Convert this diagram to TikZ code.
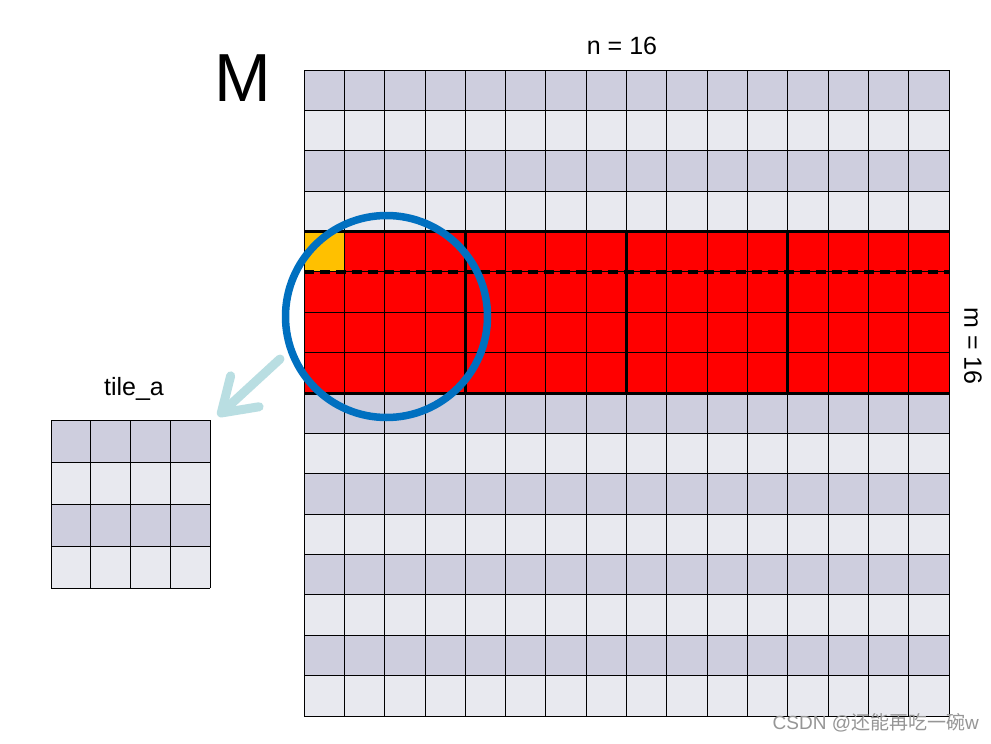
\documentclass[tikz,border=0pt]{standalone}
\usepackage{fontspec}
\setmainfont{Liberation Sans}
\newfontfamily\cjk{Noto Sans CJK SC}
\usetikzlibrary{arrows.meta}
\definecolor{rowdark}{RGB}{206,206,222}
\definecolor{rowlight}{RGB}{232,233,239}
\definecolor{cellyellow}{RGB}{255,192,0}
\definecolor{ringblue}{RGB}{0,112,192}
\definecolor{arrowcyan}{RGB}{185,222,226}
\definecolor{markgray}{RGB}{150,150,150}
\tikzset{
  gridline/.style={black, line width=0.8pt},
  bandline/.style={black, line width=3pt},
  label/.style={font=\fontsize{25}{28}\selectfont},
}
\def\cw{40.3125}
\def\ch{40.375}
\def\tw{39.75}
\def\th{42}
\begin{document}
\begin{tikzpicture}[x=1pt, y=-1pt]
\useasboundingbox[fill=white] (0,0) rectangle (991,744);
% matrix M
\foreach \r in {0,2,...,14}
  \fill[rowdark] (304,{70+\r*\ch}) rectangle (949,{70+(\r+1)*\ch});
\foreach \r in {1,3,...,15}
  \fill[rowlight] (304,{70+\r*\ch}) rectangle (949,{70+(\r+1)*\ch});
\fill[red] (304,{70+4*\ch}) rectangle (949,{70+8*\ch});
\fill[cellyellow] (304,{70+4*\ch}) rectangle ({304+\cw},{70+5*\ch});
\foreach \i in {0,...,16}{
  \draw[gridline] ({304+\i*\cw},70) -- ({304+\i*\cw},716);
  \draw[gridline] (304,{70+\i*\ch}) -- (949,{70+\i*\ch});
}
\draw[bandline] (304,{70+4*\ch}) -- (949,{70+4*\ch});
\draw[bandline] (304,{70+8*\ch}) -- (949,{70+8*\ch});
\foreach \i in {4,8,12}
  \draw[bandline] ({304+\i*\cw},{70+4*\ch}) -- ({304+\i*\cw},{70+8*\ch});
\draw[bandline, line width=3.5pt, dash pattern=on 10pt off 6pt] (304,{70+5*\ch}) -- (949,{70+5*\ch});
% tile_a
\foreach \r in {0,2}
  \fill[rowdark] (51,{420+\r*\th}) rectangle ({51+4*\tw},{420+(\r+1)*\th});
\foreach \r in {1,3}
  \fill[rowlight] (51,{420+\r*\th}) rectangle ({51+4*\tw},{420+(\r+1)*\th});
\foreach \i in {0,...,4}{
  \draw[gridline] ({51+\i*\tw},420) -- ({51+\i*\tw},{420+4*\th});
  \draw[gridline] (51,{420+\i*\th}) -- ({51+4*\tw},{420+\i*\th});
}
% labels
\node[font=\fontsize{68}{70}\selectfont] (mname) at (242.5,78) {M};
\node[label] (ncols) at (622,46) {n = 16};
\node[label, rotate=-90] (mrows) at (973,346) {m = 16};
\node[label] (tilename) at (134,389) {tile\_a};
% ring and arrow
\node[draw=ringblue, line width=7.5pt, circle, minimum size=202pt, inner sep=0pt] (ring) at (386.5,316.5) {};
\coordinate (arrowtail) at (280,359);
\coordinate (arrowtip) at (218,416);
\draw[arrowcyan, line width=9pt, line cap=round,
  -{Straight Barb[length=32pt, width=42pt, round]}] (arrowtail) -- (arrowtip);
% watermark
\node[anchor=east, text=markgray, font=\fontsize{19}{22}\selectfont, inner sep=0pt] (mark) at (979,723) {CSDN @{\cjk 还能再吃一碗}w};
\end{tikzpicture}
\end{document}
